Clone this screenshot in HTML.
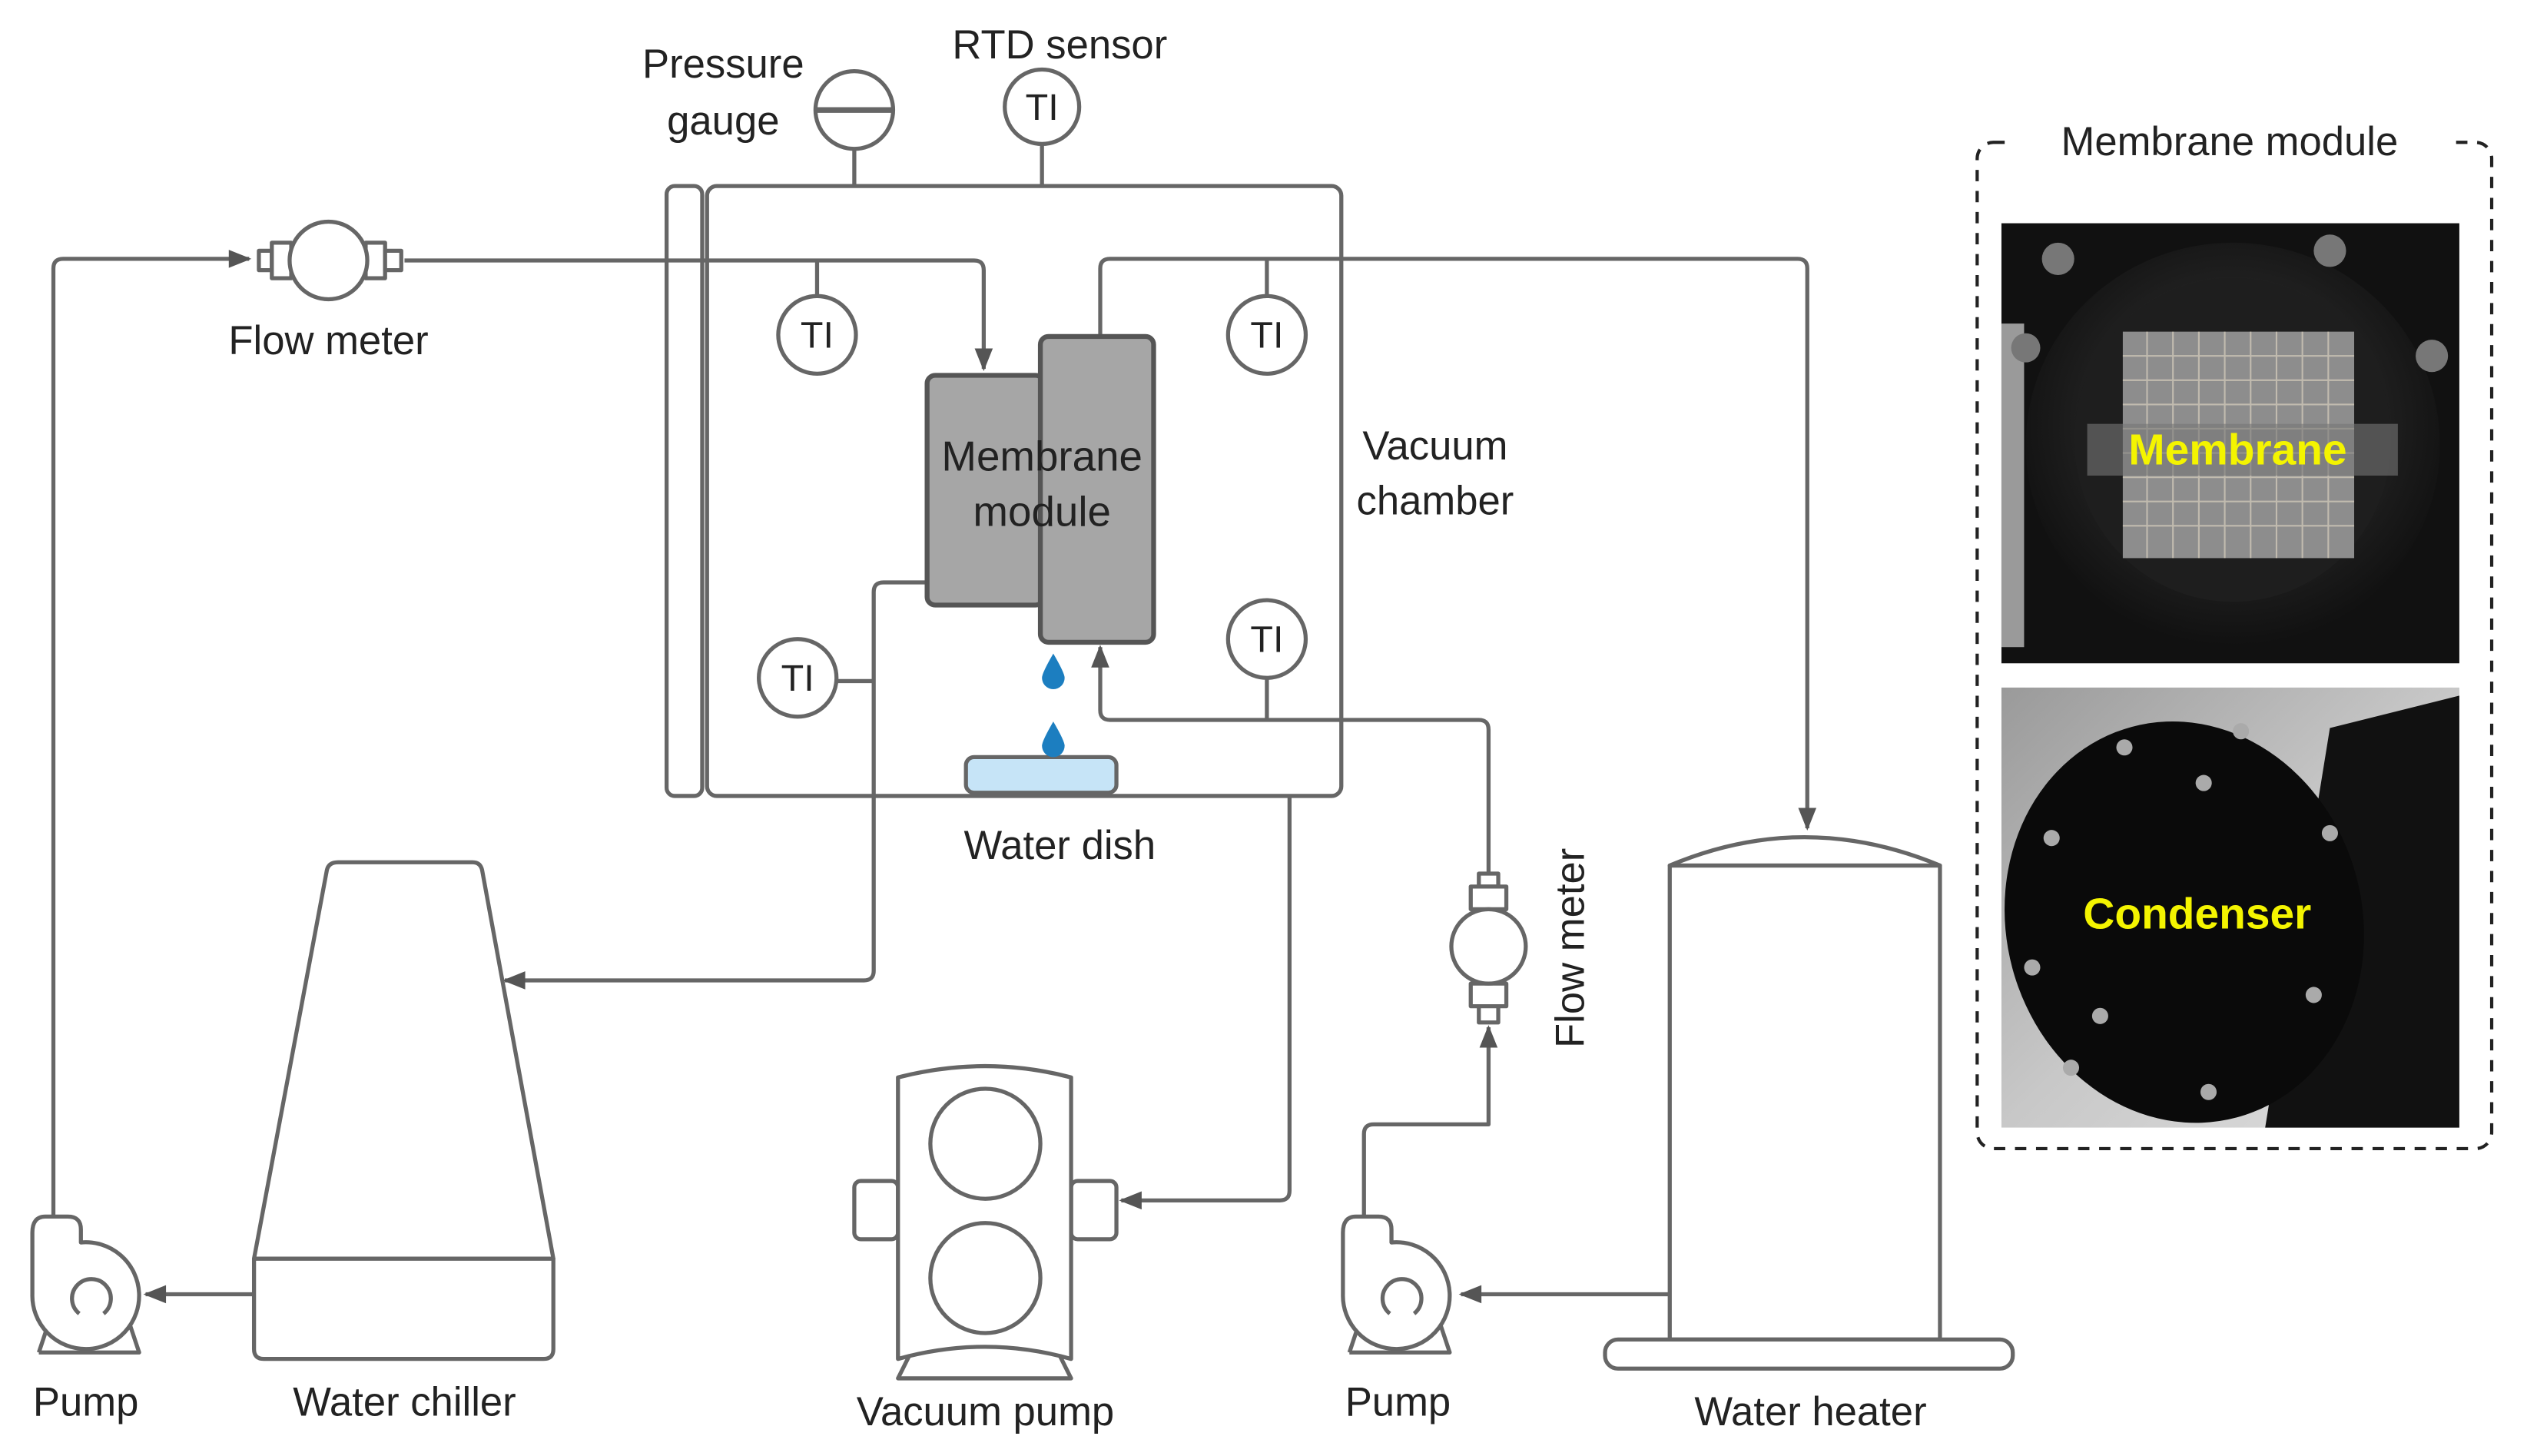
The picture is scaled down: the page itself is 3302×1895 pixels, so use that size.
<!DOCTYPE html>
<html><head><meta charset="utf-8"><style>
html,body{margin:0;padding:0;background:#fff;}
svg{display:block;}
text{font-family:"Liberation Sans",sans-serif;fill:#222;}
</style></head><body>
<svg width="3302" height="1895" viewBox="0 0 1568 900" preserveAspectRatio="none" xmlns="http://www.w3.org/2000/svg">
<defs>
<marker id="ar2" viewBox="0 0 10 10" refX="9" refY="5" markerWidth="16" markerHeight="14" markerUnits="userSpaceOnUse" orient="auto"><path d="M0,1 L10,5 L0,9 z" fill="#555"/></marker>
<radialGradient id="g1" cx="0.5" cy="0.45" r="0.6"><stop offset="0" stop-color="#3a3a3a"/><stop offset="1" stop-color="#0d0d0d"/></radialGradient>
<linearGradient id="g2" x1="0" y1="0" x2="1" y2="1"><stop offset="0" stop-color="#9a9a9a"/><stop offset="0.5" stop-color="#c8c8c8"/><stop offset="1" stop-color="#e0e0e0"/></linearGradient>
</defs>
<g fill="none" stroke="#666" stroke-width="2.5" stroke-linejoin="round">
<rect x="412" y="115" width="22" height="377" rx="5"/>
<rect x="437" y="115" width="392" height="377" rx="6"/>
<line x1="528" y1="92" x2="528" y2="115"/>
<circle cx="528" cy="68" r="24" fill="#fff"/>
<line x1="505" y1="68" x2="551" y2="68" stroke-width="3.5"/>
<line x1="644" y1="89" x2="644" y2="115"/>
<circle cx="644" cy="66" r="23" fill="#fff"/>
<line x1="505" y1="183" x2="505" y2="160"/>
<circle cx="505" cy="207" r="24"/>
<line x1="783" y1="183" x2="783" y2="160"/>
<circle cx="783" cy="207" r="24"/>
<circle cx="493" cy="419" r="24"/>
<line x1="517" y1="421" x2="540" y2="421"/>
<circle cx="783" cy="395" r="24"/>
<line x1="783" y1="419" x2="783" y2="445"/>
<path d="M33,765 V166 Q33,160 39,160 H154" marker-end="url(#ar2)"/>
<path d="M250,161 H602 Q608,161 608,167 V228" marker-end="url(#ar2)"/>
<path d="M680,208 V166 Q680,160 686,160 H1111 Q1117,160 1117,166 V512" marker-end="url(#ar2)"/>
<path d="M573,360 H546 Q540,360 540,366 V600 Q540,606 534,606 H312" marker-end="url(#ar2)"/>
<path d="M920,540 V451 Q920,445 914,445 H686 Q680,445 680,439 V400" marker-end="url(#ar2)"/>
<path d="M797,492 V736 Q797,742 791,742 H693" marker-end="url(#ar2)"/>
<path d="M157,800 H90" marker-end="url(#ar2)"/>
<path d="M1032,800 H903" marker-end="url(#ar2)"/>
<path d="M843,760 V701 Q843,695 849,695 H920 V635" marker-end="url(#ar2)"/>
<rect x="160" y="155" width="8" height="12" fill="#fff"/>
<rect x="168" y="150" width="12" height="22" fill="#fff"/>
<rect x="226" y="150" width="12" height="22" fill="#fff"/>
<rect x="238" y="155" width="10" height="12" fill="#fff"/>
<ellipse cx="203" cy="161" rx="24" ry="24" fill="#fff"/>
<rect x="914" y="540" width="12" height="8" fill="#fff"/>
<rect x="909" y="548" width="22" height="14" fill="#fff"/>
<rect x="909" y="608" width="22" height="14" fill="#fff"/>
<rect x="914" y="622" width="12" height="10" fill="#fff"/>
<circle cx="920" cy="585" r="23" fill="#fff"/>
<rect x="573" y="232" width="72" height="142" rx="5" fill="#a6a6a6" stroke="#555" stroke-width="3"/>
<rect x="643" y="208" width="70" height="189" rx="5" fill="#a6a6a6" stroke="#555" stroke-width="3"/>
<rect x="597" y="468" width="93" height="22" rx="5" fill="#c6e4f7" stroke="#666"/>
<path d="M209,533 H292 Q297,533 298,538 L342,778 H157 L202,538 Q203,533 209,533 Z"/>
<path d="M157,778 H342 V834 Q342,840 336,840 H163 Q157,840 157,834 Z"/>
<rect x="528" y="730" width="27" height="36" rx="4"/>
<rect x="662" y="730" width="28" height="36" rx="4"/>
<path d="M555,666 Q609,652 662,666 V840 Q609,825 555,840 Z" fill="#fff"/>
<circle cx="609" cy="707" r="34"/>
<circle cx="609" cy="790" r="34"/>
<path d="M562,838 L555,852 H662 L655,838"/>
<path d="M1032,535 Q1115,500 1199,535 Z"/>
<rect x="1032" y="535" width="167" height="293"/>
<rect x="992" y="828" width="252" height="18" rx="8"/>
<rect x="1222" y="88" width="318" height="622" rx="10" stroke="#222" stroke-width="2" stroke-dasharray="7,6"/>
</g>
<g id="pump" fill="none" stroke="#666" stroke-width="2.5" stroke-linejoin="round">
<path d="M24,836 L30,818 M80,818 L86,836 H24"/>
<path d="M20,762 Q20,752 28,752 H42 Q50,752 50,760 V768 A33,33 0 1 1 20,800 Z" fill="#fff"/>
<path d="M49,812 A12,12 0 1 1 64,812"/>
</g>
<use href="#pump" transform="translate(810,0)"/>
<path d="M651,404 Q658,416 658,419 A7,7 0 0 1 644,419 Q644,416 651,404 Z" fill="#1c7ec0"/>
<path d="M651,446 Q658,458 658,461 A7,7 0 0 1 644,461 Q644,458 651,446 Z" fill="#1c7ec0"/>
<rect x="1237" y="138" width="283" height="272" fill="#111"/>
<rect x="1237" y="200" width="14" height="200" fill="#9a9a9a"/>
<ellipse cx="1380" cy="275" rx="128" ry="125" fill="url(#g1)"/>
<ellipse cx="1380" cy="272" rx="98" ry="100" fill="#1e1e1e"/>
<rect x="1312" y="205" width="143" height="140" fill="#8d8d8d"/>
<g stroke="#cfc7b8" stroke-width="1" opacity="0.8">
<path d="M1312,220H1455M1312,235H1455M1312,250H1455M1312,265H1455M1312,280H1455M1312,295H1455M1312,310H1455M1312,325H1455M1327,205V345M1343,205V345M1359,205V345M1375,205V345M1391,205V345M1407,205V345M1423,205V345M1439,205V345"/>
</g>
<rect x="1290" y="262" width="192" height="32" fill="#777" opacity="0.6"/>
<circle cx="1272" cy="160" r="10" fill="#777"/><circle cx="1440" cy="155" r="10" fill="#777"/><circle cx="1503" cy="220" r="10" fill="#777"/><circle cx="1252" cy="215" r="9" fill="#777"/>
<rect x="1237" y="425" width="283" height="272" fill="url(#g2)"/>
<path d="M1440,450 L1520,430 V697 H1400 Z" fill="#111"/>
<ellipse cx="1350" cy="570" rx="110" ry="125" transform="rotate(-15 1350 570)" fill="#0a0a0a"/>
<g fill="#aaa"><circle cx="1268" cy="518" r="5"/><circle cx="1313" cy="462" r="5"/><circle cx="1385" cy="452" r="5"/><circle cx="1362" cy="484" r="5"/><circle cx="1440" cy="515" r="5"/><circle cx="1256" cy="598" r="5"/><circle cx="1430" cy="615" r="5"/><circle cx="1298" cy="628" r="5"/><circle cx="1280" cy="660" r="5"/><circle cx="1365" cy="675" r="5"/></g>
<rect x="1240" y="78" width="276" height="22" fill="#fff"/>
<g font-size="25">
<text x="447" y="48" text-anchor="middle">Pressure</text>
<text x="447" y="83" text-anchor="middle">gauge</text>
<text x="655" y="36" text-anchor="middle">RTD sensor</text>
<text x="203" y="219" text-anchor="middle">Flow meter</text>
<text x="887" y="284" text-anchor="middle">Vacuum</text>
<text x="887" y="318" text-anchor="middle">chamber</text>
<text x="655" y="531" text-anchor="middle">Water dish</text>
<text x="53" y="875" text-anchor="middle">Pump</text>
<text x="250" y="875" text-anchor="middle">Water chiller</text>
<text x="609" y="881" text-anchor="middle">Vacuum pump</text>
<text x="864" y="875" text-anchor="middle">Pump</text>
<text x="1119" y="881" text-anchor="middle">Water heater</text>
<text x="1378" y="96" text-anchor="middle">Membrane module</text>
<text transform="translate(979,586) rotate(-90)" text-anchor="middle">Flow meter</text>
<text x="644" y="291" text-anchor="middle" font-size="26">Membrane</text>
<text x="644" y="325" text-anchor="middle" font-size="26">module</text>
</g>
<g font-size="23" text-anchor="middle">
<text x="505" y="215">TI</text><text x="783" y="215">TI</text><text x="493" y="427">TI</text><text x="783" y="403">TI</text><text x="644" y="74">TI</text>
</g>
<text x="1383" y="287" text-anchor="middle" font-size="27" font-weight="bold" style="fill:#f4f400">Membrane</text>
<text x="1358" y="574" text-anchor="middle" font-size="27" font-weight="bold" style="fill:#f4f400">Condenser</text>
</svg>
</body></html>
